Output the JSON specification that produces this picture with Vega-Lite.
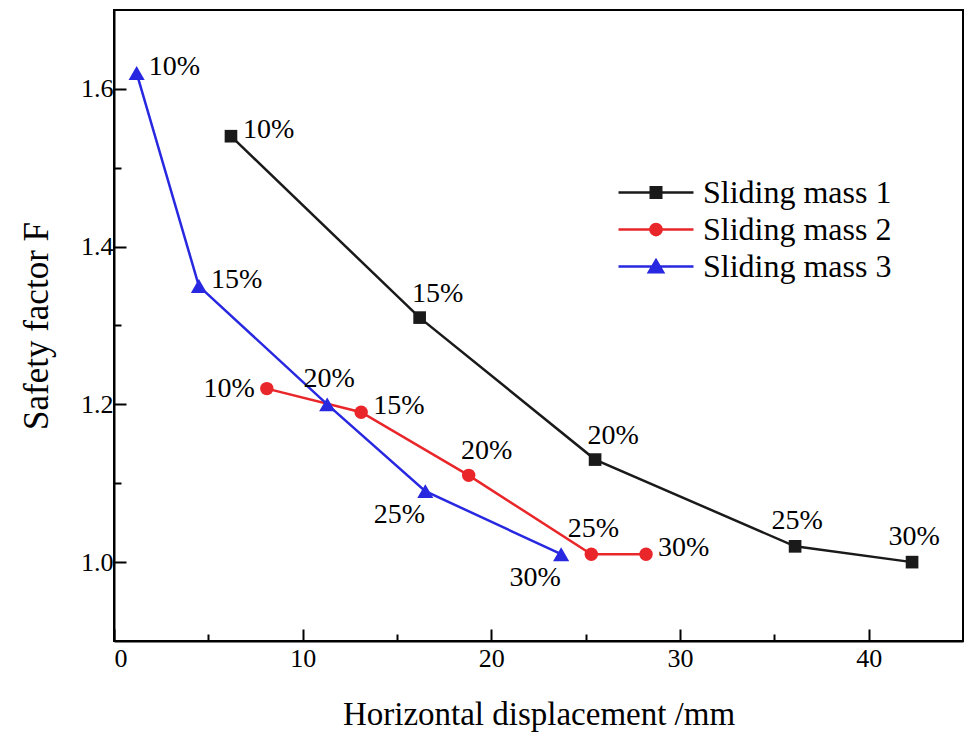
{
  "$schema": "https://vega.github.io/schema/vega-lite/v6.json",
  "width": 849,
  "height": 631,
  "autosize": {"type": "none"},
  "padding": {"left": 114, "top": 10, "right": 1, "bottom": 91},
  "background": "white",
  "config": {
    "font": "Liberation Serif",
    "view": {"stroke": "black", "strokeWidth": 2},
    "axis": {
      "domainColor": "black", "domainWidth": 2,
      "tickColor": "black", "tickWidth": 2,
      "labelColor": "black", "titleColor": "black",
      "grid": false,
      "labelFont": "Liberation Serif", "titleFont": "Liberation Serif",
      "labelFontSize": 26, "titleFontWeight": "normal"
    }
  },
  "data": {
    "values": [
      {"series": "Sliding mass 1", "disp": 6.2, "F": 1.54, "label": "10%", "pos": "right"},
      {"series": "Sliding mass 1", "disp": 16.2, "F": 1.31, "label": "15%", "pos": "aboveright"},
      {"series": "Sliding mass 1", "disp": 25.5, "F": 1.13, "label": "20%", "pos": "aboveright"},
      {"series": "Sliding mass 1", "disp": 36.1, "F": 1.02, "label": "25%", "pos": "above"},
      {"series": "Sliding mass 1", "disp": 42.3, "F": 1.00, "label": "30%", "pos": "above"},
      {"series": "Sliding mass 2", "disp": 8.1, "F": 1.22, "label": "10%", "pos": "left"},
      {"series": "Sliding mass 2", "disp": 13.1, "F": 1.19, "label": "15%", "pos": "right"},
      {"series": "Sliding mass 2", "disp": 18.8, "F": 1.11, "label": "20%", "pos": "aboveright"},
      {"series": "Sliding mass 2", "disp": 25.3, "F": 1.01, "label": "25%", "pos": "above"},
      {"series": "Sliding mass 2", "disp": 28.2, "F": 1.01, "label": "30%", "pos": "right"},
      {"series": "Sliding mass 3", "disp": 1.2, "F": 1.62, "label": "10%", "pos": "right"},
      {"series": "Sliding mass 3", "disp": 4.5, "F": 1.35, "label": "15%", "pos": "right"},
      {"series": "Sliding mass 3", "disp": 11.3, "F": 1.20, "label": "20%", "pos": "above"},
      {"series": "Sliding mass 3", "disp": 16.5, "F": 1.09, "label": "25%", "pos": "belowleft"},
      {"series": "Sliding mass 3", "disp": 23.7, "F": 1.01, "label": "30%", "pos": "belowleft"}
    ]
  },
  "encoding": {
    "x": {
      "field": "disp", "type": "quantitative",
      "scale": {"domain": [0, 45], "nice": false, "zero": false},
      "axis": {
        "title": "Horizontal displacement /mm",
        "titleFontSize": 33,
        "values": [0, 5, 10, 15, 20, 25, 30, 35, 40],
        "tickSize": {"condition": {"test": "datum.value % 10 === 0", "value": -12}, "value": -7},
        "labelExpr": "datum.value % 10 === 0 ? datum.label : ''",
        "labelPadding": 16,
        "titlePadding": 27
      }
    },
    "y": {
      "field": "F", "type": "quantitative",
      "scale": {"domain": [0.9, 1.7], "nice": false, "zero": false},
      "axis": {
        "title": "Safety factor F",
        "titleFontSize": 35,
        "values": [1.0, 1.1, 1.2, 1.3, 1.4, 1.5, 1.6],
        "format": ".1f",
        "tickSize": {"condition": {"test": "round(datum.value * 10) % 2 === 0", "value": -12}, "value": -7},
        "labelExpr": "round(datum.value * 10) % 2 === 0 ? datum.label : ''",
        "labelPadding": 13,
        "titlePadding": 26
      }
    },
    "color": {
      "field": "series", "type": "nominal",
      "scale": {"domain": ["Sliding mass 1", "Sliding mass 2", "Sliding mass 3"], "range": ["#1a1a1a", "#e9262a", "#2828e0"]},
      "legend": {
        "title": null,
        "orient": "none",
        "legendX": 503,
        "legendY": 164,
        "symbolSize": 5625,
        "clipHeight": 37,
        "rowPadding": 0,
        "labelFontSize": 32,
        "labelFont": "Liberation Serif",
        "labelColor": "black",
        "labelLimit": 0,
        "labelOffset": 8,
        "padding": 0,
        "symbolStrokeWidth": 2,
        "encode": {
          "symbols": {
            "update": {
              "shape": {"signal": "datum.value === 'Sliding mass 1' ? 'M-1,0H1M-0.14,-0.14H0.14V0.14H-0.14Z' : datum.value === 'Sliding mass 2' ? 'M-1,0H1M-0.15,0A0.15,0.15,0,1,1,0.15,0A0.15,0.15,0,1,1,-0.15,0Z' : 'M-1,0H1M0,-0.17L0.19,0.15L-0.19,0.15Z'"},
              "stroke": {"signal": "scale('color', datum.value)"},
              "fill": {"signal": "scale('color', datum.value)"},
              "size": {"value": 5625},
              "strokeWidth": {"value": 2.5},
              "opacity": {"value": 1}
            }
          }
        }
      }
    }
  },
  "layer": [
    {
      "mark": {"type": "line", "strokeWidth": 2.5}
    },
    {
      "transform": [{"filter": "datum.series === 'Sliding mass 1'"}],
      "mark": {"type": "point", "filled": true, "opacity": 1, "shape": "square", "size": 160}
    },
    {
      "transform": [{"filter": "datum.series === 'Sliding mass 2'"}],
      "mark": {"type": "point", "filled": true, "opacity": 1, "shape": "circle", "size": 180}
    },
    {
      "transform": [{"filter": "datum.series === 'Sliding mass 3'"}],
      "mark": {"type": "point", "filled": true, "opacity": 1, "shape": "triangle-up", "size": 260}
    },
    {
      "transform": [{"filter": "datum.pos === 'right'"}],
      "mark": {"type": "text", "font": "Liberation Serif", "fontSize": 28, "align": "left", "baseline": "middle", "dx": 12, "dy": -6},
      "encoding": {"text": {"field": "label"}, "color": {"value": "black"}}
    },
    {
      "transform": [{"filter": "datum.pos === 'left'"}],
      "mark": {"type": "text", "font": "Liberation Serif", "fontSize": 28, "align": "right", "baseline": "middle", "dx": -12, "dy": 0},
      "encoding": {"text": {"field": "label"}, "color": {"value": "black"}}
    },
    {
      "transform": [{"filter": "datum.pos === 'above'"}],
      "mark": {"type": "text", "font": "Liberation Serif", "fontSize": 28, "align": "center", "baseline": "alphabetic", "dx": 2, "dy": -17},
      "encoding": {"text": {"field": "label"}, "color": {"value": "black"}}
    },
    {
      "transform": [{"filter": "datum.pos === 'aboveright'"}],
      "mark": {"type": "text", "font": "Liberation Serif", "fontSize": 28, "align": "center", "baseline": "alphabetic", "dx": 18, "dy": -16},
      "encoding": {"text": {"field": "label"}, "color": {"value": "black"}}
    },
    {
      "transform": [{"filter": "datum.pos === 'belowleft'"}],
      "mark": {"type": "text", "font": "Liberation Serif", "fontSize": 28, "align": "center", "baseline": "middle", "dx": -26, "dy": 24},
      "encoding": {"text": {"field": "label"}, "color": {"value": "black"}}
    }
  ]
}
